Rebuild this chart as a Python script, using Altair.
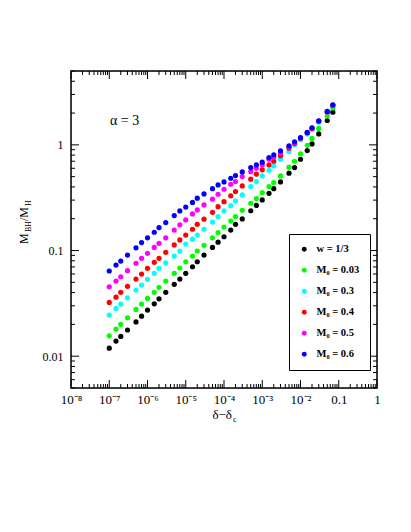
import altair as alt
import pandas as pd

# ---- data ----
x_vals = [1e-7, 1.5e-7, 2e-7, 3e-7, 5e-7, 7e-7,
          1e-6, 1.5e-6, 2e-6, 3e-6, 5e-6, 7e-6,
          1e-5, 1.5e-5, 2e-5, 3e-5, 5e-5, 7e-5,
          1e-4, 1.5e-4, 2e-4, 3e-4, 5e-4, 7e-4,
          1e-3, 1.5e-3, 2e-3, 3e-3, 5e-3, 7e-3,
          1e-2, 1.5e-2, 2e-2, 3e-2, 5e-2, 7e-2]

black = [0.0119, 0.0139, 0.0154, 0.0177, 0.0211, 0.0239,
         0.0273, 0.0313, 0.0349, 0.0402, 0.0479, 0.0537,
         0.0608, 0.0702, 0.0783, 0.0906, 0.107, 0.120,
         0.135, 0.156, 0.177, 0.199, 0.238, 0.267,
         0.301, 0.348, 0.385, 0.446, 0.539, 0.609,
         0.731, 0.883, 1.02, 1.27, 1.70, 2.04]
green = [0.0156, 0.0180, 0.0200, 0.0231, 0.0277, 0.0311,
         0.0352, 0.0402, 0.0448, 0.0514, 0.0608, 0.0683,
         0.0783, 0.0887, 0.0990, 0.112, 0.132, 0.148,
         0.167, 0.190, 0.210, 0.240, 0.280, 0.310,
         0.353, 0.403, 0.440, 0.508, 0.615, 0.700,
         0.822, 0.990, 1.15, 1.43, 1.88, 2.23]
cyan = [0.0245, 0.0283, 0.0311, 0.0357, 0.0422, 0.0471,
        0.0533, 0.0608, 0.0678, 0.0766, 0.0887, 0.0990,
        0.115, 0.128, 0.140, 0.159, 0.186, 0.209,
        0.238, 0.266, 0.294, 0.336, 0.403, 0.450,
        0.508, 0.575, 0.632, 0.731, 0.863, 1.00,
        1.12, 1.27, 1.40, 1.64, 2.02, 2.35]
red = [0.0323, 0.0362, 0.0402, 0.0458, 0.0537, 0.0598,
       0.0678, 0.0773, 0.0844, 0.0962, 0.113, 0.126,
       0.140, 0.159, 0.177, 0.198, 0.230, 0.260,
       0.290, 0.329, 0.361, 0.409, 0.473, 0.528,
       0.580, 0.646, 0.700, 0.790, 0.930, 1.03,
       1.15, 1.30, 1.43, 1.67, 2.05, 2.36]
magenta = [0.0454, 0.0514, 0.0565, 0.0644, 0.0757, 0.0844,
           0.094, 0.107, 0.117, 0.132, 0.156, 0.175,
           0.195, 0.222, 0.242, 0.270, 0.306, 0.341,
           0.380, 0.424, 0.449, 0.501, 0.558, 0.601,
           0.646, 0.731, 0.764, 0.840, 0.960, 1.05,
           1.16, 1.30, 1.44, 1.68, 2.06, 2.37]
blue = [0.0640, 0.0729, 0.0795, 0.0906, 0.106, 0.119,
        0.132, 0.149, 0.165, 0.184, 0.214, 0.237,
        0.258, 0.285, 0.313, 0.343, 0.385, 0.418,
        0.446, 0.483, 0.512, 0.555, 0.609, 0.646,
        0.686, 0.758, 0.804, 0.880, 0.978, 1.07,
        1.17, 1.31, 1.45, 1.69, 2.07, 2.39]

series_names = ["w = 1/3", "M\u2080 = 0.03", "M\u2080 = 0.3",
                "M\u2080 = 0.4", "M\u2080 = 0.5", "M\u2080 = 0.6"]
series_vals = [black, green, cyan, red, magenta, blue]
series_colors = ["#000000", "#00ff00", "#00ffff", "#ff0000", "#ff00ff", "#0000ff"]

x_major = [1e-8, 1e-7, 1e-6, 1e-5, 1e-4, 1e-3, 1e-2, 0.1, 1]
x_labels = ["10\u207b\u2078", "10\u207b\u2077", "10\u207b\u2076", "10\u207b\u2075",
            "10\u207b\u2074", "10\u207b\u00b3", "10\u207b\u00b2", "0.1", "1"]
x_minor = [m * 10.0 ** k for k in range(-8, 0) for m in range(2, 10)]
y_major = [0.01, 0.1, 1]
y_labels = ["0.01", "0.1", "1"]
y_minor = [0.005, 0.006, 0.007, 0.008, 0.009,
           0.02, 0.03, 0.04, 0.05, 0.06, 0.07, 0.08, 0.09,
           0.2, 0.3, 0.4, 0.5, 0.6, 0.7, 0.8, 0.9,
           2, 3, 4, 5]

# ---- build table ----
rows = []
for name, vals in zip(series_names, series_vals):
    for xv, yv in zip(x_vals, vals):
        rows.append({"x": xv, "y": yv, "series": name})
df = pd.DataFrame(rows)

W, H = 306, 317
FONT = "Liberation Serif"
xscale = alt.Scale(type="log", domain=[1e-8, 1], nice=False)
yscale = alt.Scale(type="log", domain=[0.005, 5], nice=False)

x_expr = "[" + ",".join("'%s'" % s for s in x_labels) + "][round(log(datum.value)/LN10)+8]"
y_expr = "[" + ",".join("'%s'" % s for s in y_labels) + "][round(log(datum.value)/LN10)+2]"

points = alt.Chart(df).mark_circle(size=27, opacity=1).encode(
    x=alt.X("x:Q", scale=xscale,
            axis=alt.Axis(values=x_major, labelExpr=x_expr, ticks=False, tickSize=0,
                          domain=False, grid=False, title=None, labelFont=FONT,
                          labelFontSize=13, labelPadding=5, labelFlush=False,
                          labelOverlap=False, labelColor="black")),
    y=alt.Y("y:Q", scale=yscale,
            axis=alt.Axis(values=y_major, labelExpr=y_expr, ticks=False, tickSize=0,
                          domain=False, grid=False, title=None, labelFont=FONT,
                          labelFontSize=12, labelPadding=8, labelFlush=False,
                          labelOverlap=False, labelColor="black")),
    color=alt.Color("series:N",
                    scale=alt.Scale(domain=series_names, range=series_colors),
                    legend=alt.Legend(orient="none", legendX=218, legendY=163,
                                      title=None, padding=10, rowPadding=10,
                                      strokeColor="black", fillColor="white",
                                      symbolType="circle", symbolSize=24,
                                      symbolStrokeWidth=0, labelFont=FONT,
                                      labelFontSize=10.5, labelFontWeight="bold",
                                      labelOffset=7, labelColor="black")),
)


def xticks(vals, length, top):
    d = pd.DataFrame({"v": vals})
    if top:
        yv, y2v = 0, length
    else:
        yv, y2v = H, H - length
    return alt.Chart(d).mark_rule(color="black", strokeWidth=1).encode(
        x=alt.X("v:Q", scale=xscale),
        y=alt.value(yv), y2=alt.value(y2v))


def yticks(vals, length, right):
    d = pd.DataFrame({"v": vals})
    if right:
        xv, x2v = W, W - length
    else:
        xv, x2v = 0, length
    return alt.Chart(d).mark_rule(color="black", strokeWidth=1).encode(
        y=alt.Y("v:Q", scale=yscale),
        x=alt.value(xv), x2=alt.value(x2v))


tick_layers = [
    xticks(x_major, 8, False), xticks(x_minor, 4, False),
    xticks(x_major, 8, True), xticks(x_minor, 4, True),
    yticks(y_major, 8, False), yticks(y_minor, 4, False),
    yticks(y_major, 8, True), yticks(y_minor, 4, True),
]

frame = alt.Chart(pd.DataFrame({"a": [0]})).mark_rect(
    fill=None, stroke="black", strokeWidth=1.5).encode(
    x=alt.value(0), x2=alt.value(W), y=alt.value(0), y2=alt.value(H))


def label(text, x, y, size=12, angle=0, align="left", baseline="alphabetic", weight="normal"):
    d = pd.DataFrame({"t": [text]})
    kw = dict(align=align, baseline=baseline, font=FONT, fontSize=size,
              color="black", fontWeight=weight)
    if angle:
        kw["angle"] = angle
    return alt.Chart(d).mark_text(**kw).encode(
        x=alt.value(x), y=alt.value(y), text="t:N")


texts = [
    label("\u03b1 = 3", 39, 50, size=14, baseline="middle"),
    label("\u03b4\u2212\u03b4", 161, 348, size=13, align="right"),
    label("c", 162, 351, size=8),
    label("M", -43.5, 173, size=12, angle=270),
    label("BH", -40.5, 161, size=8, angle=270),
    label("/M", -43.5, 150, size=12, angle=270),
    label("H", -40.5, 135, size=8, angle=270),
]

chart = alt.layer(points, *tick_layers, frame, *texts).properties(
    width=W, height=H,
    padding={"left": 63, "top": 63, "right": 26, "bottom": 136},
    autosize=alt.AutoSizeParams(type="none"),
).configure_view(stroke=None).configure(background="white")

chart.save("out.html", embed_options={"renderer": "svg", "actions": False})
